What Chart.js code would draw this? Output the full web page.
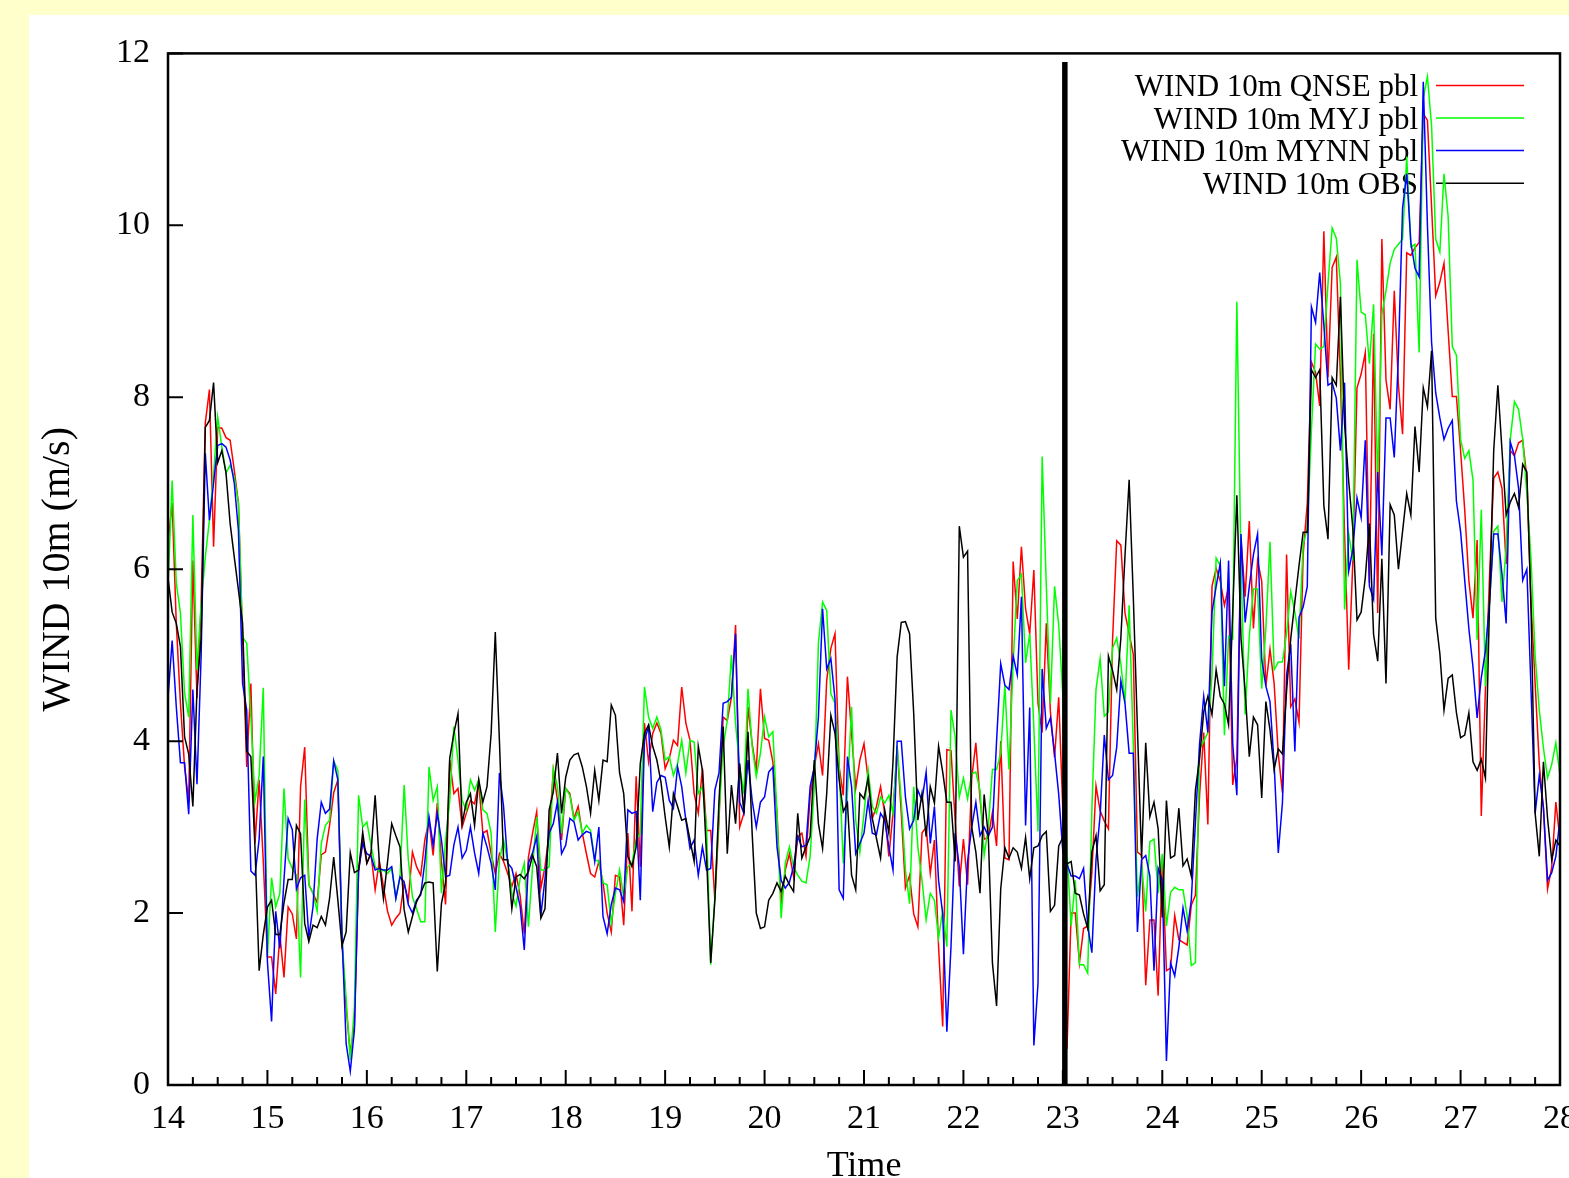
<!DOCTYPE html>
<html>
<head>
<meta charset="utf-8">
<script src="https://cdn.jsdelivr.net/npm/chart.js@4/dist/chart.umd.min.js"></script>
<style>
  html, body { margin: 0; padding: 0; background: #ffffcc; overflow: hidden; width: 1569px; height: 1178px; }
  #panel { position: absolute; left: 29px; top: 15px; width: 1640px; height: 1200px; background: #ffffff; }
  canvas { display: block; }
</style>
</head>
<body>
<div id="panel"><canvas id="wind" width="1640" height="1200"></canvas></div>
<script>
// Hourly 10 m wind speed (m/s), starting at day 14 00h, one value per hour up to day 28 00h.
const START_DAY = 14;
const HOURS_PER_DAY = 24;

const xTicks = [14, 15, 16, 17, 18, 19, 20, 21, 22, 23, 24, 25, 26, 27, 28];
const yTicks = [0, 2, 4, 6, 8, 10, 12];
const splitDay = 23.02;    // vertical marker
const splitTop = 11.9;

const labels = ['WIND 10m QNSE pbl', 'WIND 10m MYJ pbl', 'WIND 10m MYNN pbl', 'WIND 10m OBS'];

const qnse = [
  6.3, 6.77, 5.37, 4.44, 3.7, 3.3, 6.1, 4.5, 5.6, 7.7, 8.09, 6.26, 7.65, 7.64, 7.53, 7.5, 7.15, 6.77, 5.2, 3.7, 4.67, 2.81, 3.55, 2.6,
  1.49, 1.49, 1.06, 1.75, 1.25, 2.07, 1.99, 1.7, 3.47, 3.93, 2.33, 2.23, 2.12, 2.68, 2.71, 3.02, 3.4, 3.55, 1.64, 0.9, 0.37, 0.69, 2.49, 2.86,
  2.58, 2.69, 2.27, 2.6, 2.31, 2.02, 1.86, 1.94, 2.0, 2.35, 2.15, 2.71, 2.54, 2.44, 2.85, 3.08, 2.67, 3.28, 2.6, 2.1, 3.78, 3.39, 3.45, 3.0,
  3.16, 3.31, 3.27, 3.52, 2.93, 2.96, 2.69, 2.46, 2.69, 2.6, 2.46, 2.31, 2.46, 2.2, 1.76, 2.65, 2.93, 3.18, 2.29, 2.54, 2.93, 3.66, 3.31, 2.85,
  3.45, 3.39, 3.1, 3.24, 2.93, 2.69, 2.46, 2.42, 2.6, 2.35, 2.0, 1.78, 2.44, 2.42, 1.86, 2.93, 2.02, 3.59, 2.54, 4.21, 3.76, 4.09, 4.21, 4.09,
  3.68, 3.8, 4.01, 3.95, 4.63, 4.21, 4.01, 3.39, 3.16, 3.68, 2.96, 2.96, 2.15, 3.08, 4.28, 4.24, 4.51, 5.35, 3.0, 3.16, 4.4, 3.97, 3.66, 4.61,
  4.03, 4.01, 3.76, 3.16, 2.11, 2.5, 2.69, 2.42, 2.89, 2.93, 2.66, 3.35, 3.7, 3.97, 3.6, 4.71, 5.08, 5.25, 3.7, 3.37, 4.75, 4.09, 3.45, 3.78,
  3.97, 3.55, 3.1, 3.24, 3.47, 3.16, 2.66, 3.16, 3.94, 3.16, 2.29, 2.44, 1.99, 1.84, 2.93, 3.0, 2.46, 2.85, 1.61, 0.68, 3.9, 3.89, 3.08, 2.31,
  2.86, 2.33, 3.57, 3.98, 3.33, 2.86, 2.88, 3.17, 2.78, 4.0, 2.64, 2.62, 6.09, 5.42, 6.26, 5.54, 5.25, 5.99, 4.44, 4.1, 5.37, 4.34, 3.81, 4.51,
  3.19, 0.42, 2.0, 2.0, 1.42, 1.82, 1.85, 2.47, 3.48, 3.19, 3.07, 2.98, 5.18, 6.33, 6.28, 5.49, 5.25, 5.01, 2.71, 2.67, 1.16, 1.92, 1.92, 1.04,
  2.6, 1.33, 1.36, 1.97, 1.69, 1.66, 1.63, 2.09, 2.21, 3.37, 4.1, 3.03, 5.8, 6.01, 5.86, 5.58, 5.8, 3.49, 3.8, 6.35, 5.68, 6.56, 5.31, 6.1,
  5.86, 4.64, 5.07, 4.67, 3.85, 3.4, 6.17, 4.4, 4.49, 4.22, 6.17, 6.77, 8.41, 8.29, 7.9, 9.93, 8.23, 9.51, 9.63, 8.23, 6.41, 4.83, 6.1, 8.11,
  8.27, 8.52, 5.84, 8.74, 5.49, 9.84, 8.2, 7.86, 9.24, 8.14, 7.57, 9.68, 9.65, 9.74, 9.8, 11.3, 11.22, 10.22, 9.18, 9.34, 9.56, 8.77, 8.01, 8.01,
  7.38, 6.69, 5.87, 5.43, 6.34, 3.13, 4.61, 5.93, 7.06, 7.13, 6.94, 6.06, 7.38, 7.32, 7.47, 7.5, 7.06, 5.62, 4.67, 3.73, 3.22, 2.28, 2.53, 3.29, 2.85
];

const myj = [
  5.8, 7.03, 5.84, 5.49, 4.56, 4.28, 6.63, 4.83, 5.6, 6.14, 6.57, 7.1, 7.77, 7.42, 7.12, 7.21, 7.07, 6.77, 5.21, 5.14, 4.28, 3.3, 3.6, 4.62,
  1.49, 2.41, 2.07, 2.23, 3.45, 2.63, 2.52, 2.44, 1.25, 3.32, 2.33, 2.23, 2.02, 2.81, 3.02, 3.08, 3.77, 3.66, 1.7, 1.0, 0.29, 0.9, 3.37, 3.0,
  3.06, 2.79, 2.54, 2.48, 2.5, 2.46, 2.52, 2.17, 2.42, 3.49, 2.62, 2.19, 2.05, 1.9, 1.9, 3.7, 3.31, 3.47, 2.23, 2.85, 3.3, 4.17, 3.78, 3.31,
  3.2, 3.55, 3.43, 3.55, 3.2, 3.16, 2.93, 1.78, 2.62, 2.85, 2.6, 2.23, 2.08, 2.4, 2.58, 1.84, 2.54, 3.12, 2.5, 2.5, 2.54, 3.68, 3.47, 2.93,
  3.45, 3.37, 3.08, 3.18, 2.93, 3.02, 2.96, 2.62, 2.6, 2.35, 2.33, 1.88, 2.23, 2.5, 2.19, 2.54, 2.58, 2.85, 2.93, 4.63, 4.28, 4.15, 4.28, 4.13,
  3.78, 3.82, 3.6, 3.74, 4.01, 3.63, 4.01, 3.99, 3.39, 3.47, 3.0, 1.4, 2.19, 3.16, 3.94, 4.24, 5.0, 4.2, 3.7, 3.39, 4.61, 3.94, 3.59, 3.86,
  4.28, 4.05, 4.11, 3.16, 1.94, 2.58, 2.77, 2.54, 2.44, 2.37, 2.35, 2.66, 3.47, 5.14, 5.62, 5.52, 4.55, 4.44, 3.7, 2.58, 3.39, 4.4, 3.08, 2.71,
  3.16, 3.66, 3.24, 3.16, 3.35, 3.28, 3.37, 3.16, 3.94, 3.3, 2.5, 2.11, 3.47, 2.77, 2.38, 1.92, 2.23, 2.15, 1.71, 2.03, 1.61, 4.36, 4.05, 3.35,
  3.57, 3.33, 3.62, 3.64, 3.43, 2.67, 3.0, 3.67, 3.67, 3.86, 4.65, 3.67, 4.91, 5.87, 5.94, 4.91, 5.25, 4.15, 2.95, 7.31, 5.82, 4.44, 5.8, 5.35,
  4.53, 2.71, 1.85, 2.38, 1.4, 1.4, 1.3, 3.19, 4.6, 4.96, 4.29, 4.34, 5.08, 5.2, 4.9, 4.44, 5.58, 3.96, 2.19, 2.57, 2.02, 2.83, 2.86, 2.23,
  2.69, 1.85, 2.24, 2.3, 2.27, 2.27, 1.97, 1.39, 1.42, 3.91, 4.0, 4.1, 4.77, 6.13, 6.04, 4.07, 5.22, 5.19, 9.11, 6.04, 4.31, 5.22, 5.77, 5.77,
  4.61, 5.31, 6.32, 4.83, 4.92, 4.92, 5.25, 5.74, 5.5, 5.19, 6.29, 6.47, 7.62, 8.62, 8.56, 8.59, 9.32, 9.97, 9.85, 9.32, 5.53, 6.41, 6.1, 9.6,
  8.99, 8.96, 8.39, 9.08, 7.0, 8.96, 9.24, 9.56, 9.72, 9.78, 9.84, 10.8, 9.75, 9.78, 8.52, 11.48, 11.73, 11.16, 9.84, 9.69, 10.6, 10.1, 8.59, 8.49,
  7.51, 7.29, 7.38, 7.04, 5.18, 6.69, 4.64, 5.62, 6.44, 6.5, 5.62, 6.25, 7.51, 7.95, 7.86, 7.51, 6.88, 6.12, 4.99, 4.36, 3.92, 3.57, 3.73, 3.98, 3.6
];

const mynn = [
  4.5, 5.17, 4.4, 3.75, 3.75, 3.15, 4.6, 3.5, 5.0, 7.35, 6.57, 7.0, 7.44, 7.46, 7.42, 7.27, 7.0, 6.45, 4.67, 4.36, 2.49, 2.44, 2.86, 3.82,
  1.43, 0.74, 2.02, 1.59, 2.39, 3.1, 2.97, 2.28, 2.41, 2.44, 1.72, 2.07, 2.86, 3.29, 3.16, 3.21, 3.77, 3.55, 1.75, 0.48, 0.16, 0.64, 2.49, 2.81,
  2.69, 2.66, 2.5, 2.52, 2.5, 2.5, 2.54, 2.17, 2.42, 2.36, 2.1, 2.0, 2.15, 2.21, 2.6, 3.12, 2.79, 3.16, 2.85, 2.42, 2.44, 2.79, 3.0, 2.64,
  2.73, 3.0, 2.7, 2.46, 2.93, 2.77, 2.58, 2.27, 3.63, 3.24, 2.58, 2.52, 2.3, 2.08, 1.57, 2.58, 2.7, 2.89, 1.97, 2.4, 2.93, 3.04, 3.29, 2.69,
  2.79, 3.1, 3.06, 2.85, 2.91, 2.95, 2.93, 2.6, 3.0, 1.96, 1.76, 2.1, 2.29, 2.27, 2.13, 3.2, 3.16, 3.18, 2.15, 4.01, 4.17, 3.18, 3.52, 3.6,
  3.58, 3.31, 3.22, 3.7, 3.47, 3.08, 2.75, 2.85, 2.44, 2.77, 2.5, 2.52, 3.43, 3.63, 4.44, 4.46, 4.51, 5.25, 3.29, 3.16, 3.78, 3.31, 3.0, 3.29,
  3.35, 3.64, 3.7, 2.77, 2.38, 2.29, 2.36, 2.54, 2.89, 2.77, 2.79, 3.47, 3.7, 4.28, 5.54, 4.84, 4.96, 4.49, 2.27, 2.17, 3.82, 3.47, 2.69, 2.81,
  2.93, 3.31, 2.93, 2.91, 3.16, 3.08, 2.77, 2.5, 4.0, 4.0, 3.35, 2.98, 3.08, 3.43, 3.31, 3.64, 2.81, 3.24, 2.38, 1.99, 0.62, 1.61, 2.93, 2.54,
  1.52, 2.6, 3.0, 3.29, 2.9, 3.0, 2.9, 3.0, 4.0, 4.9, 4.65, 4.6, 4.99, 4.77, 5.68, 3.02, 4.39, 0.46, 1.18, 4.84, 4.15, 4.27, 3.86, 3.38,
  2.71, 2.57, 2.43, 2.43, 2.4, 2.52, 1.85, 1.54, 2.62, 3.14, 4.07, 3.55, 3.6, 3.93, 4.7, 4.44, 3.86, 3.86, 1.78, 2.62, 2.67, 2.43, 1.33, 2.52,
  2.38, 0.28, 1.42, 1.27, 1.6, 2.06, 1.79, 2.15, 3.06, 3.97, 4.52, 4.1, 5.5, 5.8, 6.07, 4.64, 6.1, 3.97, 3.37, 6.41, 5.38, 5.8, 6.17, 6.41,
  4.95, 4.64, 4.46, 3.73, 2.7, 3.28, 4.77, 5.13, 3.88, 5.44, 5.56, 5.8, 9.05, 8.87, 9.45, 8.84, 8.14, 8.17, 7.99, 7.38, 8.17, 5.98, 6.23, 6.83,
  6.6, 7.5, 5.8, 5.65, 7.13, 6.16, 7.76, 7.76, 7.3, 8.5, 10.2, 10.6, 9.8, 9.5, 9.4, 11.67, 10.0, 8.64, 8.05, 7.76, 7.51, 7.64, 7.73, 6.79,
  6.44, 5.87, 5.31, 4.86, 4.27, 4.74, 5.05, 5.62, 6.41, 6.41, 5.94, 5.37, 7.48, 7.32, 6.94, 5.87, 6.0, 4.61, 3.16, 3.6, 3.23, 2.38, 2.47, 2.66, 3.1
];

const obs = [
  5.9, 5.5, 5.37, 5.1, 4.05, 3.85, 3.24, 4.6, 5.2, 7.65, 7.73, 8.17, 7.24, 7.38, 7.12, 6.53, 6.14, 5.76, 5.37, 3.88, 3.82, 2.76, 1.33, 1.75,
  2.07, 2.15, 1.75, 1.75, 2.12, 2.39, 2.39, 3.02, 2.92, 1.88, 1.67, 1.86, 1.83, 1.96, 1.86, 2.17, 2.65, 2.15, 1.62, 1.78, 2.7, 2.47, 2.5, 2.94,
  2.58, 2.7, 3.37, 2.6, 2.17, 2.6, 3.04, 2.9, 2.77, 2.04, 1.78, 1.96, 2.13, 2.23, 2.35, 2.36, 2.35, 1.32, 2.11, 2.35, 3.8, 4.09, 4.32, 3.04,
  3.29, 3.39, 3.02, 3.55, 3.29, 3.47, 4.09, 5.27, 4.0, 2.62, 2.62, 2.05, 2.42, 2.45, 2.4, 2.48, 2.67, 2.54, 1.94, 2.05, 3.2, 3.41, 3.86, 3.16,
  3.58, 3.78, 3.84, 3.86, 3.7, 3.47, 3.16, 3.66, 3.31, 3.78, 3.76, 4.42, 4.3, 3.63, 3.39, 2.66, 2.54, 2.77, 3.74, 4.09, 4.19, 3.94, 3.78, 3.52,
  3.12, 2.77, 3.39, 3.24, 3.08, 3.1, 2.85, 2.6, 3.94, 3.66, 2.66, 1.42, 2.15, 3.31, 4.17, 2.69, 3.49, 3.04, 3.74, 3.16, 4.11, 2.93, 2.0, 1.82,
  1.84, 2.15, 2.23, 2.35, 2.25, 2.43, 2.33, 2.25, 3.16, 2.64, 2.77, 2.89, 3.78, 3.04, 2.75, 3.39, 4.3, 4.09, 3.55, 3.18, 3.28, 2.44, 2.27, 3.39,
  3.33, 3.57, 3.1, 2.87, 2.64, 3.2, 2.93, 3.76, 4.98, 5.38, 5.39, 5.25, 4.32, 3.08, 3.39, 2.89, 3.47, 3.28, 3.94, 3.64, 3.29, 3.29, 2.6, 6.5,
  6.14, 6.21, 3.0, 2.71, 2.23, 3.38, 2.9, 1.42, 0.92, 2.28, 2.76, 2.64, 2.76, 2.71, 2.52, 2.88, 2.4, 2.76, 2.78, 2.9, 2.95, 2.02, 2.09, 2.78,
  2.88, 2.57, 2.6, 2.23, 2.21, 1.99, 1.82, 2.71, 2.9, 2.26, 2.33, 4.99, 4.82, 4.6, 5.2, 6.16, 7.04, 5.68, 4.15, 2.64, 3.98, 3.12, 3.29, 2.98,
  1.95, 3.31, 2.64, 2.67, 3.22, 2.55, 2.63, 2.43, 3.43, 3.8, 4.34, 4.52, 4.31, 4.83, 4.52, 4.43, 4.19, 5.5, 6.86, 5.19, 4.58, 3.82, 4.28, 4.19,
  3.34, 4.46, 4.13, 3.67, 3.91, 3.85, 4.58, 5.19, 5.62, 6.04, 6.43, 6.43, 8.32, 8.23, 8.32, 6.74, 6.35, 8.23, 8.14, 9.17, 7.69, 7.02, 6.47, 5.41,
  5.5, 5.9, 6.53, 5.24, 4.93, 6.12, 4.67, 6.75, 6.63, 6.0, 6.44, 6.88, 6.63, 7.66, 7.13, 8.11, 7.89, 8.54, 5.43, 5.02, 4.36, 4.73, 4.77, 4.33,
  4.04, 4.07, 4.33, 3.76, 3.66, 3.79, 3.57, 5.62, 7.38, 8.14, 7.38, 6.63, 6.78, 6.88, 6.72, 7.22, 7.13, 5.55, 3.16, 2.66, 3.76, 3.1, 2.62, 2.85, 2.78
];

const FONT = '"Liberation Serif", "Times New Roman", "DejaVu Serif", serif';

function hourly(values) {
  return values.map((v, i) => ({ x: START_DAY + i / HOURS_PER_DAY, y: v }));
}

function series(label, values, color, order) {
  return {
    label, data: hourly(values), borderColor: color, backgroundColor: color,
    borderWidth: 1.5, pointRadius: 0, tension: 0, fill: false, order, inKey: true
  };
}

// inward tick marks plus the full plot frame
const frameTicks = {
  id: 'frameTicks',
  afterDatasetsDraw(chart) {
    const { ctx, chartArea: a, scales: { x, y } } = chart;
    ctx.save();
    ctx.strokeStyle = '#000';
    ctx.lineWidth = 2;
    ctx.beginPath();
    for (let q = 0; q <= (x.max - x.min) * 4; q++) {
      const d = x.min + q / 4;
      const px = x.getPixelForValue(d);
      const len = q % 4 === 0 ? 15 : 8;
      ctx.moveTo(px, a.bottom);
      ctx.lineTo(px, a.bottom - len);
    }
    yTicks.forEach(v => {
      const py = y.getPixelForValue(v);
      ctx.moveTo(a.left, py);
      ctx.lineTo(a.left + 15, py);
    });
    ctx.stroke();
    ctx.lineWidth = 2.5;
    ctx.strokeRect(a.left, a.top, a.right - a.left, a.bottom - a.top);
    ctx.restore();
  }
};

// key in the upper right: right-aligned names followed by a line sample
const keyBox = {
  id: 'keyBox',
  beforeDatasetsDraw(chart) {
    const { ctx, chartArea: a } = chart;
    ctx.save();
    ctx.font = '31px ' + FONT;
    ctx.textAlign = 'right';
    ctx.textBaseline = 'alphabetic';
    chart.data.datasets.filter(d => d.inKey).forEach((d, i) => {
      const yy = a.top + 32 + i * 32.6;
      ctx.fillStyle = '#000';
      ctx.fillText(d.label, a.right - 142, yy + 10.5);
      ctx.strokeStyle = d.borderColor;
      ctx.lineWidth = 1.5;
      ctx.beginPath();
      ctx.moveTo(a.right - 124, yy);
      ctx.lineTo(a.right - 36, yy);
      ctx.stroke();
    });
    ctx.restore();
  }
};

new Chart(document.getElementById('wind'), {
  type: 'line',
  data: {
    datasets: [
      series(labels[0], qnse, '#ff0000', 4),
      series(labels[1], myj, '#00ff00', 3),
      series(labels[2], mynn, '#0000ff', 2),
      series(labels[3], obs, '#000000', 1),
      {
        label: '', data: [{ x: splitDay, y: 0 }, { x: splitDay, y: splitTop }],
        borderColor: '#000', borderWidth: 5.5, pointRadius: 0, order: 0, inKey: false
      }
    ]
  },
  options: {
    responsive: false,
    devicePixelRatio: 1,
    animation: false,
    layout: { padding: { top: 38, right: 109, left: 0, bottom: 0 } },
    plugins: { legend: { display: false }, tooltip: { enabled: false } },
    scales: {
      x: {
        type: 'linear', min: 14, max: 28,
        afterBuildTicks: s => { s.ticks = xTicks.map(v => ({ value: v })); },
        afterFit: s => { s.height = 130; },
        ticks: { autoSkip: false, maxRotation: 0, color: '#000', padding: 14, font: { family: FONT, size: 34 } },
        grid: { display: false, drawTicks: false },
        border: { display: false },
        title: { display: true, text: 'Time', color: '#000', font: { family: FONT, size: 36 }, padding: { top: 0, bottom: 27 } }
      },
      y: {
        min: 0, max: 12,
        afterBuildTicks: s => { s.ticks = yTicks.map(v => ({ value: v })); },
        afterFit: s => { s.width = 139; },
        ticks: { color: '#000', padding: 18, font: { family: FONT, size: 34 } },
        grid: { display: false, drawTicks: false },
        border: { display: false },
        title: { display: true, text: 'WIND 10m (m/s)', color: '#000', font: { family: FONT, size: 40 }, padding: { top: 5, bottom: 0 } }
      }
    }
  },
  plugins: [keyBox, frameTicks]
});
</script>
</body>
</html>
